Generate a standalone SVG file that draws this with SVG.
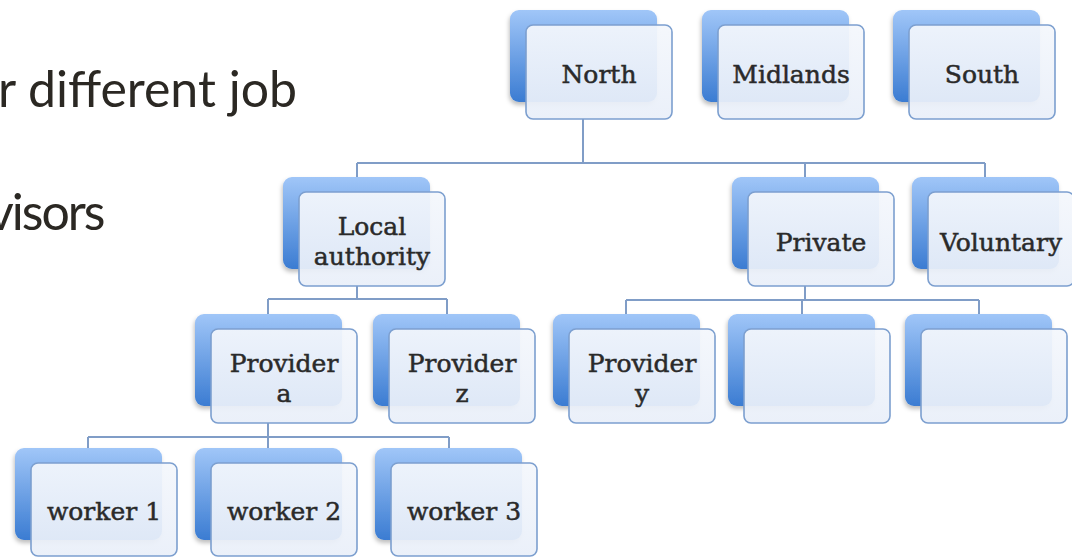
<svg xmlns="http://www.w3.org/2000/svg" width="1072" height="557" viewBox="0 0 1072 557">
<defs>
<linearGradient id="gBack" x1="0" y1="0" x2="0" y2="1">
<stop offset="0" stop-color="#a0c6f8"/>
<stop offset="1" stop-color="#3b7cd2"/>
</linearGradient>
<linearGradient id="gFront" x1="0" y1="0" x2="0" y2="1">
<stop offset="0" stop-color="#f4f7fc"/>
<stop offset="1" stop-color="#e9eff9"/>
</linearGradient>
<filter id="sh" x="-10%" y="-10%" width="130%" height="130%">
<feDropShadow dx="-1" dy="3" stdDeviation="2" flood-color="#000" flood-opacity="0.25"/>
</filter>
</defs>
<style>
.back{fill:url(#gBack);filter:url(#sh)}
.front{fill:url(#gFront);fill-opacity:0.93;stroke:#7c9fcf;stroke-width:1.6}
.lbl{font-family:"DejaVu Serif","Liberation Serif",serif;font-size:25px;fill:#2a2a2a;stroke:#2a2a2a;stroke-width:0.5;text-anchor:middle}
.side{font-family:Lato,"Open Sans","Liberation Sans",sans-serif;font-size:50px;fill:#2b2823}
.conn{fill:none;stroke:#809dc7;stroke-width:2}
</style>
<rect width="1072" height="557" fill="#ffffff"/>
<text class="side" x="297" y="107" text-anchor="end">r different job</text>
<text class="side" x="-12" y="230" font-size="43" letter-spacing="-2">visors</text>
<g id="connectors" class="conn">
<path d="M583,119V163M357,163H985M357,163V177M805,163V177M985,163V177"/>
<path d="M357,286V299M268,299H447M268,299V314M447,299V314"/>
<path d="M805,286V300M626,300H979M626,300V314M802,300V314M979,300V314"/>
<path d="M268,423V437M88,437H449M88,437V448M268,437V448M449,437V448"/>
</g>
<g id="north"><rect class="back" x="510" y="10" width="147" height="92" rx="9"/><rect class="front" x="526" y="25" width="146" height="94" rx="7"/><text class="lbl" x="599" y="83">North</text></g>
<g id="midlands"><rect class="back" x="702" y="10" width="147" height="92" rx="9"/><rect class="front" x="718" y="25" width="146" height="94" rx="7"/><text class="lbl" x="791" y="83">Midlands</text></g>
<g id="south"><rect class="back" x="893" y="10" width="147" height="92" rx="9"/><rect class="front" x="909" y="25" width="146" height="94" rx="7"/><text class="lbl" x="982" y="83">South</text></g>
<g id="local-authority"><rect class="back" x="283" y="177" width="147" height="92" rx="9"/><rect class="front" x="299" y="192" width="146" height="94" rx="7"/><text class="lbl" x="372" y="235">Local</text><text class="lbl" x="372" y="265">authority</text></g>
<g id="private"><rect class="back" x="732" y="177" width="147" height="92" rx="9"/><rect class="front" x="748" y="192" width="146" height="94" rx="7"/><text class="lbl" x="821" y="251">Private</text></g>
<g id="voluntary"><rect class="back" x="912" y="177" width="147" height="92" rx="9"/><rect class="front" x="928" y="192" width="146" height="94" rx="7"/><text class="lbl" x="1001" y="251">Voluntary</text></g>
<g id="provider-a"><rect class="back" x="195" y="314" width="147" height="92" rx="9"/><rect class="front" x="211" y="329" width="146" height="94" rx="7"/><text class="lbl" x="284" y="372">Provider</text><text class="lbl" x="284" y="402">a</text></g>
<g id="provider-z"><rect class="back" x="373" y="314" width="147" height="92" rx="9"/><rect class="front" x="389" y="329" width="146" height="94" rx="7"/><text class="lbl" x="462" y="372">Provider</text><text class="lbl" x="462" y="402">z</text></g>
<g id="provider-y"><rect class="back" x="553" y="314" width="147" height="92" rx="9"/><rect class="front" x="569" y="329" width="146" height="94" rx="7"/><text class="lbl" x="642" y="372">Provider</text><text class="lbl" x="642" y="402">y</text></g>
<g id="blank-1"><rect class="back" x="728" y="314" width="147" height="92" rx="9"/><rect class="front" x="744" y="329" width="146" height="94" rx="7"/></g>
<g id="blank-2"><rect class="back" x="905" y="314" width="147" height="92" rx="9"/><rect class="front" x="921" y="329" width="146" height="94" rx="7"/></g>
<g id="worker-1"><rect class="back" x="15" y="448" width="147" height="92" rx="9"/><rect class="front" x="31" y="463" width="146" height="93" rx="7"/><text class="lbl" x="104" y="520">worker 1</text></g>
<g id="worker-2"><rect class="back" x="195" y="448" width="147" height="92" rx="9"/><rect class="front" x="211" y="463" width="146" height="93" rx="7"/><text class="lbl" x="284" y="520">worker 2</text></g>
<g id="worker-3"><rect class="back" x="375" y="448" width="147" height="92" rx="9"/><rect class="front" x="391" y="463" width="146" height="93" rx="7"/><text class="lbl" x="464" y="520">worker 3</text></g>
</svg>
